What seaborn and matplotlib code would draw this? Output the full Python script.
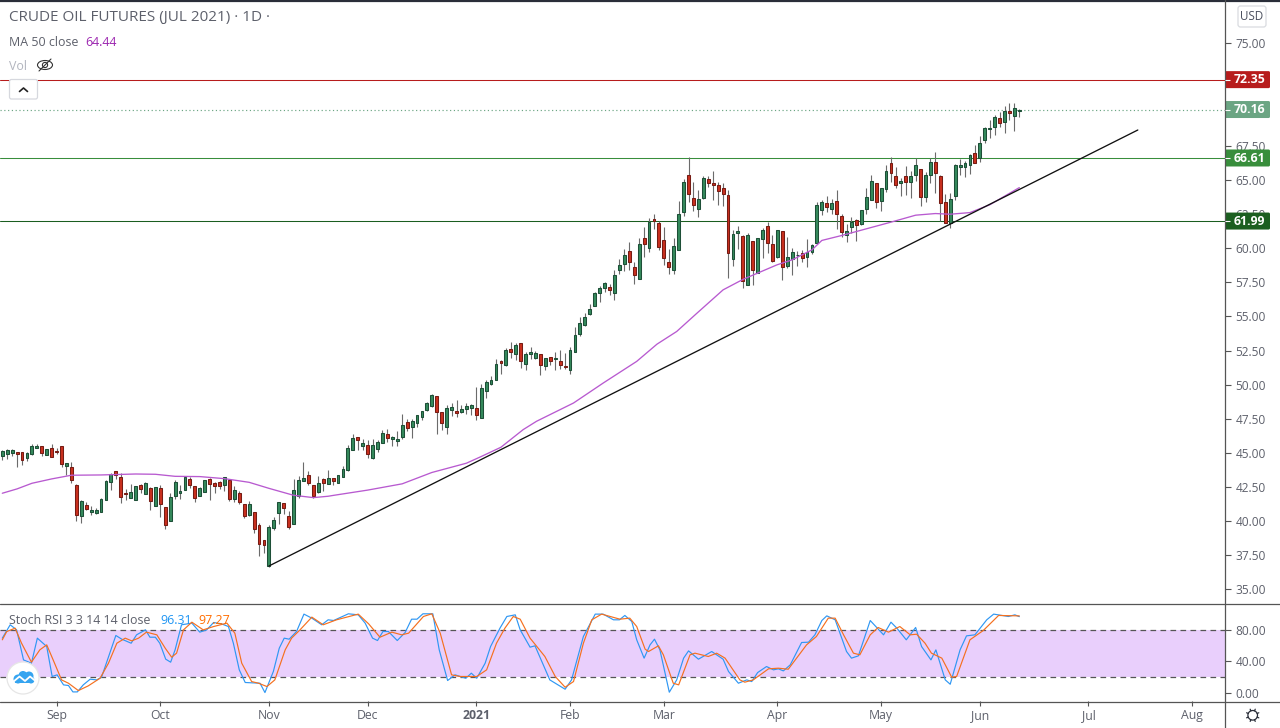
import numpy as np
import pandas as pd
import seaborn as sns
import matplotlib
matplotlib.use("Agg")
import matplotlib.pyplot as plt
from matplotlib.patches import Rectangle, FancyBboxPatch, Circle, Ellipse

open_prices = [
44.81,44.95,45.00,45.05,45.05,44.66,44.95,45.39,45.49,44.88,
45.34,45.15,45.49,44.08,43.95,42.63,40.41,41.17,40.71,40.63,
40.71,41.59,42.90,43.66,43.22,42.07,41.73,41.59,42.68,42.02,
42.41,41.14,42.41,41.02,40.05,41.88,42.10,42.32,43.07,42.56,
41.88,42.17,43.07,42.78,42.85,42.68,43.00,41.66,42.05,41.24,
40.49,40.65,39.70,38.60,36.72,39.53,40.63,41.31,40.36,39.82,
41.83,42.97,43.37,42.63,42.12,43.07,42.76,43.14,42.83,43.26,
43.78,45.24,46.15,45.54,45.56,44.66,45.32,45.76,46.37,46.05,
45.90,46.20,47.25,46.93,47.22,47.66,48.13,48.47,49.15,47.98,
46.93,48.17,48.05,48.03,48.25,48.32,48.27,47.59,49.57,50.03,
50.37,51.71,51.47,52.59,52.28,53.03,51.49,52.28,51.98,52.23,
51.40,52.01,51.91,51.71,51.37,51.11,52.42,53.74,54.35,55.15,
55.74,56.69,57.12,57.14,56.69,58.43,58.87,59.78,58.60,57.77,
60.73,60.05,62.12,61.83,60.58,58.97,58.38,59.90,62.68,65.34,
63.66,62.90,63.71,65.05,64.76,64.61,64.39,63.88,59.24,61.10,
60.88,57.29,60.51,58.22,60.66,61.61,60.29,59.32,61.24,58.73,
59.22,59.47,59.64,59.35,59.69,60.41,62.82,63.29,62.90,63.43,
62.34,60.99,61.53,62.04,61.75,62.90,63.56,64.75,63.43,64.36,
66.22,65.27,64.80,65.27,64.87,65.39,65.78,63.78,65.39,66.29,
65.27,63.36,61.87,63.85,65.95,65.95,66.12,66.95,66.61,67.95,
68.76,68.90,69.52,69.27,70.03,69.71,70.08]
close_prices = [
45.12,45.19,45.22,44.93,44.51,44.98,45.49,45.51,45.03,45.27,
44.73,45.07,44.22,44.25,43.05,40.49,41.46,40.93,40.83,40.83,
41.61,42.93,43.44,43.37,41.80,42.02,42.12,42.56,42.39,42.78,
41.51,42.49,41.29,39.75,41.76,42.85,42.22,43.22,42.68,41.73,
42.41,43.00,42.75,42.61,42.61,43.22,41.63,42.27,41.44,40.41,
41.24,39.46,38.36,38.29,39.56,40.07,41.39,41.00,39.60,42.27,
43.00,43.15,42.83,41.88,42.78,42.83,43.15,42.97,43.36,43.80,
45.34,46.07,45.98,45.71,44.95,45.56,45.78,46.44,46.12,46.17,
46.00,47.03,46.86,47.32,47.76,48.05,48.66,49.25,48.03,47.22,
48.27,48.35,47.91,48.20,48.42,48.49,47.81,49.74,50.18,50.32,
51.49,51.57,52.52,52.37,52.89,51.76,52.23,52.37,52.30,51.47,
51.94,51.77,51.94,51.47,51.32,52.52,53.62,54.55,54.96,55.54,
56.71,57.08,57.44,56.97,58.02,58.75,59.48,59.02,58.07,60.29,
60.34,61.95,62.00,60.12,59.31,58.60,60.14,62.49,64.83,63.95,
63.20,63.59,65.12,64.81,64.66,64.22,64.00,59.63,61.02,61.24,
57.63,60.95,58.39,60.73,61.32,60.37,59.05,61.32,58.61,59.34,
59.69,59.48,59.26,59.72,60.23,63.14,63.36,63.04,63.29,62.53,
61.21,61.28,61.94,61.72,62.77,63.73,64.90,63.41,64.39,65.63,
65.53,64.66,64.90,64.87,65.27,66.07,63.78,65.34,66.29,65.48,
63.34,61.87,63.58,66.07,66.07,66.22,66.80,66.27,67.68,68.78,
68.81,69.59,69.20,70.03,69.93,70.25,70.16]
high_prices = [
45.22,45.27,45.29,45.05,45.10,45.05,45.66,45.66,45.54,45.29,
45.66,45.34,45.54,44.29,44.32,42.71,41.54,41.39,41.12,40.95,
41.68,43.02,43.56,43.68,43.51,42.34,42.73,42.59,42.71,42.85,
42.49,42.51,42.63,41.07,42.05,43.00,42.66,43.32,43.27,42.59,
42.54,43.02,43.15,42.85,42.97,43.24,43.07,42.58,42.22,41.26,
41.49,40.65,39.85,38.60,39.73,40.34,41.41,41.31,40.75,43.07,
43.34,44.34,43.68,42.66,43.32,43.15,43.76,43.14,43.39,44.05,
45.56,46.39,46.15,46.03,45.93,46.03,45.93,46.68,46.76,46.24,
46.59,47.86,47.47,47.47,47.81,48.08,48.74,49.30,49.20,48.03,
48.49,48.64,48.86,48.52,48.66,48.59,49.83,50.03,50.35,50.62,
51.88,51.81,52.69,53.13,53.03,53.08,52.40,52.77,52.45,52.28,
51.98,52.06,52.37,52.55,52.33,52.74,54.25,54.95,55.25,55.91,
56.76,57.25,57.52,57.36,58.41,59.21,59.95,60.44,59.00,60.75,
61.56,62.19,62.51,62.00,61.56,59.95,60.75,63.46,65.08,66.66,
64.86,64.27,65.30,65.30,65.64,64.88,64.78,64.27,61.34,61.63,
60.98,61.10,60.56,60.76,61.47,61.95,60.98,61.34,61.29,60.80,
59.99,59.81,59.88,60.65,60.28,63.36,63.53,63.82,63.60,64.26,
62.51,61.75,62.31,62.14,62.80,64.41,65.36,64.80,64.44,66.12,
66.68,65.92,65.17,66.02,65.63,66.58,65.83,65.58,66.58,67.05,
65.36,63.97,64.04,66.15,66.56,66.41,66.88,67.56,68.24,68.90,
69.39,69.73,69.95,70.39,70.61,70.61,70.22]
low_prices = [
44.49,44.56,44.78,44.00,44.12,44.42,44.85,45.34,44.81,44.83,
44.71,44.93,44.00,43.39,42.83,40.03,39.88,40.83,40.46,40.54,
40.68,41.59,42.29,43.07,41.34,41.59,41.68,41.56,42.10,41.99,
40.83,41.12,40.34,39.46,40.02,41.63,41.63,42.29,42.41,41.44,
41.83,42.12,41.59,42.07,42.37,42.24,41.51,41.41,41.29,40.22,
40.39,39.14,37.48,37.68,36.67,39.39,39.82,40.56,39.46,39.80,
41.71,42.97,42.63,41.73,42.10,42.22,42.73,42.65,42.80,43.24,
43.71,45.22,45.22,45.22,44.63,44.58,45.07,45.73,45.80,45.51,
45.51,46.05,46.64,46.13,46.91,47.42,48.10,48.35,46.39,46.69,
46.39,47.71,47.61,47.95,47.86,47.81,47.44,47.56,49.03,50.01,
50.35,50.79,51.37,51.96,51.81,51.20,51.08,51.88,51.86,50.74,
51.08,51.42,51.08,51.13,51.13,50.79,52.40,53.60,54.30,55.13,
55.74,56.08,56.78,56.58,56.24,58.12,58.34,58.41,57.38,57.77,
59.36,59.73,61.41,59.87,58.77,58.12,58.12,59.87,62.36,63.41,
62.76,62.32,63.61,64.51,63.56,63.17,63.12,57.85,58.73,59.97,
57.12,57.27,57.34,58.20,59.25,59.68,58.98,59.27,57.66,58.58,
58.06,58.71,58.98,58.65,59.60,60.36,62.43,62.68,62.51,61.41,
60.85,60.45,61.14,60.55,61.70,62.51,63.53,62.95,62.75,64.14,
64.85,64.44,63.83,63.90,63.70,64.95,63.12,63.36,64.80,64.07,
61.97,61.87,61.51,63.53,65.36,65.22,65.44,66.24,66.32,67.71,
68.05,68.29,68.90,68.47,69.39,68.61,69.64]

ma_bar = [0,3,6,10,14,20,27,31,35,40,45,50,54,59,63,66,67,74,81,87,94,97,101,105.5,108.2,115.7,121.7,128.5,132.6,136.6,140.7,146,150.1,156.9,160,164,166,170,180,185,189,192,196,200,206]
ma_value = [42.05,42.37,42.78,43.10,43.37,43.39,43.46,43.44,43.29,43.27,43.12,42.85,42.41,41.90,41.73,41.83,41.89,42.28,42.74,43.57,44.25,44.74,45.42,46.71,47.32,48.66,50.12,51.71,52.97,53.90,55.24,56.95,57.73,58.78,59.15,59.88,60.57,60.93,61.91,62.42,62.54,62.49,62.61,63.18,64.44]

k_bar = [0,1.6,2.9,4.3,5.9,7.1,9.0,10.1,11.1,12.4,13.4,14.3,15.2,16.4,17.8,19.1,20.1,21.3,23.0,24.2,26.1,27.2,29.0,29.9,31.0,31.9,33.1,34.1,35.0,36.3,38.4,40.0,41.4,42.8,44.4,45.8,46.8,48.0,49.2,52.2,53.2,54.9,56.1,57.1,58.1,59.6,61.1,62.7,64.7,66.0,67.1,70.1,72.1,73.5,75.0,76.0,77.1,78.2,80.0,81.6,82.9,84.0,85.2,87.2,88.5,90.2,91.7,93.9,95.0,96.1,97.8,98.9,100.8,102.2,103.9,
104.9,106.9,107.9,110.9,114.0,115.3,117.7,120.1,121.7,123.8,125.0,126.1,127.5,128.5,130.0,131.2,132.1,133.2,135.1,136.6,138.0,139.0,141.0,143.7,146.0,147.1,149.1,150.8,151.8,153.0,154.8,156.2,157.2,158.2,159.6,161.9,163.3,164.6,166.0,167.0,168.7,171.0,172.0,173.4,175.8,178.5,180.0,181.2,183.1,185.0,186.2,188.1,189.1,191.0,192.0,194.0,195.3,197.0,199.4,200.8,203.8,205.1,206]
k_value = [69.1,86.0,79.6,41.6,37.4,69.1,58.5,20.6,22.7,10.0,9.2,1.1,1.1,10.0,17.2,16.3,19.7,41.6,72.5,67.8,62.7,73.3,79.6,70.3,70.3,62.7,42.5,38.7,54.3,86.0,88.1,76.7,79.6,88.9,87.2,83.8,62.7,29.0,13.0,12.1,0.3,26.9,56.4,69.1,67.8,77.5,99.5,94.4,86.0,92.3,91.4,99.9,98.6,88.1,69.1,66.1,77.5,77.5,66.1,76.3,93.1,93.1,99.9,99.9,54.3,15.5,22.7,18.4,24.8,18.4,37.4,58.5,81.7,96.5,98.6,
79.6,57.7,59.4,16.3,4.5,16.3,71.2,99.5,99.5,92.3,92.3,97.8,90.2,67.0,43.8,60.6,67.8,54.3,0.7,16.3,43.8,53.0,42.5,52.2,42.5,26.9,12.1,16.3,14.2,25.6,33.2,29.0,30.3,27.7,35.3,63.6,64.0,73.3,91.4,97.3,92.3,52.2,43.8,46.7,91.4,73.3,89.3,81.7,67.0,82.6,58.5,41.6,54.3,16.3,10.8,54.3,72.0,73.3,92.3,99.5,96.5,98.6,96.31]
d_bar = [0,0.9,2.6,3.9,5.9,7.6,9.0,10.3,12.0,13.4,15.4,17.4,19.8,21.5,23.2,24.9,26.2,27.6,29.2,31.3,33.0,34.3,35.3,36.7,38.4,40.7,42.8,45.5,47.1,48.5,50.5,51.9,53.6,55.2,57.3,58.6,60.3,62.7,65.0,67.7,72.1,74.2,76.5,78.9,80.9,82.3,85.3,87.0,88.7,91.0,92.7,96.1,98.1,100.1,101.8,103.5,
104.9,106.9,109.9,112.0,114.0,115.7,117.7,119.4,121.4,125.1,127.1,128.5,130.2,130.9,132.9,133.9,135.9,137.0,139.3,140.3,143.0,144.7,146.4,149.4,150.4,152.1,155.2,157.2,159.2,162.9,164.9,167.3,168.7,170.4,172.4,173.7,175.8,177.4,179.5,181.8,183.9,185.2,186.9,188.2,190.3,192.3,193.3,196.0,198.7,201.8,206]
d_value = [67.0,77.5,81.7,62.7,38.7,54.3,60.6,41.6,16.3,12.1,2.8,8.7,18.4,37.4,62.7,69.1,65.7,69.1,76.7,73.3,56.4,45.0,50.1,79.6,89.3,79.6,83.8,88.1,75.4,37.4,14.2,12.1,7.9,16.3,54.3,69.1,79.6,95.7,86.0,92.3,99.5,87.2,70.3,76.7,73.3,75.4,96.5,99.9,75.4,22.7,20.6,20.6,29.0,62.7,81.7,96.5,
93.1,69.1,45.9,20.6,7.0,14.2,62.7,92.3,99.5,93.1,94.4,83.8,55.2,52.2,59.4,48.0,12.1,10.0,48.0,50.1,45.9,50.1,43.8,16.3,13.4,16.3,30.3,31.1,29.8,60.6,71.2,94.4,94.4,73.3,50.1,48.0,73.3,82.6,76.7,83.8,73.3,74.1,62.7,50.1,43.8,19.7,20.6,67.0,78.8,97.8,97.27]

trend_bar = [54, 230]
trend_value = [36.72, 68.66]
level_values = [72.35, 66.61, 61.99]
level_colors = ["#b71c1c", "#388e3c", "#1b5e20"]
last_value = 70.16
price_ticks = [35.0,37.5,40.0,42.5,45.0,47.5,50.0,52.5,55.0,57.5,60.0,62.5,65.0,67.5,72.5,75.0]
stoch_ticks = [0, 40, 80]
month_bars = [11,32,54,74,96,115,134,157,178,198,220,241]
month_labels = ["Sep","Oct","Nov","Dec","2021","Feb","Mar","Apr","May","Jun","Jul","Aug"]

FONT = "Open Sans"
GREY = "#5d606b"
sns.set_style("white")
plt.rcParams["font.family"] = [FONT, "DejaVu Sans"]
W, H = 1280, 728
fig = plt.figure(figsize=(12.8, 7.28), dpi=100, facecolor="white")
def axpos(l, t, r, b):
    return [l / W, 1 - b / H, (r - l) / W, (b - t) / H]
ax = fig.add_axes(axpos(0, 1, 1225, 603))
ax2 = fig.add_axes(axpos(0, 604, 1225, 701))

xlim = (-0.466, 247.66)
df = pd.DataFrame(dict(bar=np.arange(len(open_prices)), o=open_prices, h=high_prices, l=low_prices, c=close_prices))
df["up"] = df.c >= df.o
ax.vlines(df.bar, df.l, df.h, color="#6b6b6b", lw=0.8, zorder=2)
for up, fc, ec in ((True, "#358a5c", "#1d4f37"), (False, "#c9301f", "#761c14")):
    d = df[df.up == up]
    ax.bar(d.bar, (d.c - d.o).abs(), bottom=np.minimum(d.o, d.c), width=0.58,
           color=fc, edgecolor=ec, linewidth=0.75, zorder=3)

sns.lineplot(x=ma_bar, y=ma_value, ax=ax, color="#b85ad0", linewidth=0.95, estimator=None, sort=False, zorder=4)
sns.lineplot(x=trend_bar, y=trend_value, ax=ax, color="#111111", linewidth=0.95, estimator=None, sort=False, zorder=5)
for v, col in zip(level_values, level_colors):
    ax.axhline(v, color=col, lw=0.75, zorder=1)
ax.axhline(last_value, color="#6ba583", lw=0.85, ls=(0, (1, 2.2)), zorder=1)

ax.set_xlim(*xlim)
ax.set_ylim(34.01, 78.11)
ax.set_xticks(month_bars)
ax.set_xticklabels([])
ax.tick_params(axis="x", length=0)
ax.yaxis.tick_right()
ax.set_yticks(price_ticks)
ax.set_yticklabels([f"{v:.2f}" for v in price_ticks], fontsize=8.6, color=GREY)
ax.tick_params(axis="y", length=4.5, width=0.8, color="#555555", pad=3, right=True)
for s in ("left", "bottom", "top", "right"):
    ax.spines[s].set_visible(False)
ax.set_xlabel(""); ax.set_ylabel("")
ax.grid(False)

# stochastic panel
ax2.add_patch(Rectangle((xlim[0], 20), xlim[1] - xlim[0], 60, fc="#e9cffc", ec="none", zorder=0))
ax2.axhline(80, color="#555555", lw=0.9, ls=(0, (4.5, 3.5)), zorder=1)
ax2.axhline(20, color="#555555", lw=0.9, ls=(0, (4.5, 3.5)), zorder=1)
sns.lineplot(x=k_bar, y=k_value, ax=ax2, color="#2f97f3", linewidth=0.85, estimator=None, sort=False, zorder=3)
sns.lineplot(x=d_bar, y=d_value, ax=ax2, color="#f5701f", linewidth=0.85, estimator=None, sort=False, zorder=4)
ax2.set_xlim(*xlim)
ax2.set_ylim(-10.4, 112.3)
ax2.yaxis.tick_right()
ax2.set_yticks(stoch_ticks)
ax2.set_yticklabels([f"{v:.2f}" for v in stoch_ticks], fontsize=8.6, color=GREY)
ax2.set_xticks(month_bars)
ax2.set_xticklabels(month_labels, fontsize=8.8, color=GREY)
for lab in ax2.get_xticklabels():
    if lab.get_text() == "2021":
        lab.set_fontweight("bold")
ax2.tick_params(axis="y", length=4.5, width=0.8, color="#555555", pad=3, right=True)
ax2.tick_params(axis="x", length=3.5, width=0.8, color="#555555", pad=2, bottom=True)
for s in ("left", "right", "top", "bottom"):
    ax2.spines[s].set_visible(False)
ax2.set_xlabel(""); ax2.set_ylabel("")
ax2.grid(False)

# overlay in figure pixels for captions and interface furniture
ov = fig.add_axes([0, 0, 1, 1], zorder=20)
ov.set_xlim(0, W); ov.set_ylim(H, 0); ov.axis("off"); ov.patch.set_alpha(0)
ov.plot([0, W], [0.5, 0.5], color="#2a2e39", lw=1.6)
ov.plot([0, W], [603.5, 603.5], color="#555555", lw=0.9)
ov.plot([0, W], [701.5, 701.5], color="#555555", lw=0.9)
ov.plot([1224.5, 1224.5], [0, H], color="#555555", lw=0.9)

# price badges on the axis, placed from the price scale
def price_to_px(v):
    return ov.transData.inverted().transform(ax.transData.transform((0, v)))[1]
for v, col in list(zip(level_values, level_colors)) + [(last_value, "#6ba583")]:
    yp = price_to_px(v)
    ov.add_patch(FancyBboxPatch((1225, yp - 8.5), 45, 17, boxstyle="round,pad=0,rounding_size=1.5", fc=col, ec="none"))
    ov.plot([1225, 1230], [yp, yp], color="white", lw=0.8, solid_capstyle="butt")
    ov.text(1249.5, yp + 0.3, f"{v:.2f}", ha="center", va="center", color="white", fontsize=8.8, fontweight="bold")

def t(x, y, s, size=9, color=GREY, **kw):
    ov.text(x, y, s, fontsize=size, color=color, va="center", **kw)
t(9, 18, "CRUDE OIL FUTURES (JUL 2021) · 1D ·", size=10.95)
t(9, 42, "MA 50 close", size=8.9)
t(85, 42, "64.44", size=8.9, color="#9c27b0")
t(9, 66, "Vol", size=8.9, color="#b2b5be")
t(9, 621, "Stoch RSI 3 3 14 14 close", size=8.9)
t(160, 621, "96.31", size=8.9, color="#2196f3")
t(198, 621, "97.27", size=8.9, color="#ff6d00")

# eye icon
ov.add_patch(Ellipse((45, 65), 15, 9, fc="none", ec="#333333", lw=0.8))
ov.add_patch(Circle((45, 65), 2.6, fc="none", ec="#333333", lw=0.8))
ov.plot([39, 51], [71, 59], color="#333333", lw=0.8)
# collapse button
ov.add_patch(FancyBboxPatch((9.5, 79.5), 28, 19.5, boxstyle="round,pad=0,rounding_size=2", fc="white", ec="#d6d8de", lw=0.9))
ov.plot([19.5, 23.5, 27.5], [91.5, 88, 91.5], color="#222222", lw=1.2)
# currency box
ov.add_patch(FancyBboxPatch((1238, 6), 28, 21, boxstyle="round,pad=0,rounding_size=2.5", fc="white", ec="#d9dbe0", lw=0.9))
ov.text(1252, 16.5, "USD", fontsize=8.4, color="#4a4f5e", ha="center", va="center")
# logo
ov.add_patch(Circle((23, 678), 16, fc="white", ec="#e6e6e6", lw=0.9))
for cx, cy, r in ((18, 679, 4.5), (23, 675.5, 4.5), (29, 676, 4.5), (31, 680, 3.5)):
    ov.add_patch(Circle((cx, cy), r, fc="#35a4f0", ec="none"))
ov.add_patch(Rectangle((15, 678), 18, 5.2, fc="#35a4f0", ec="none"))
ov.plot([13, 19.5, 25, 30, 35.5], [682, 676.5, 681, 676.5, 681], color="white", lw=1.3)
# settings gear
gx, gy = 1252.7, 715.3
ov.add_patch(Circle((gx, gy), 4.8, fc="none", ec="#2a2e39", lw=0.9))
for ang in np.deg2rad(np.arange(0, 360, 45) + 22.5):
    ov.plot([gx + 4.8 * np.cos(ang), gx + 6.6 * np.cos(ang)], [gy + 4.8 * np.sin(ang), gy + 6.6 * np.sin(ang)], color="#2a2e39", lw=0.9)

fig.savefig("out.png", dpi=100, facecolor="white")
